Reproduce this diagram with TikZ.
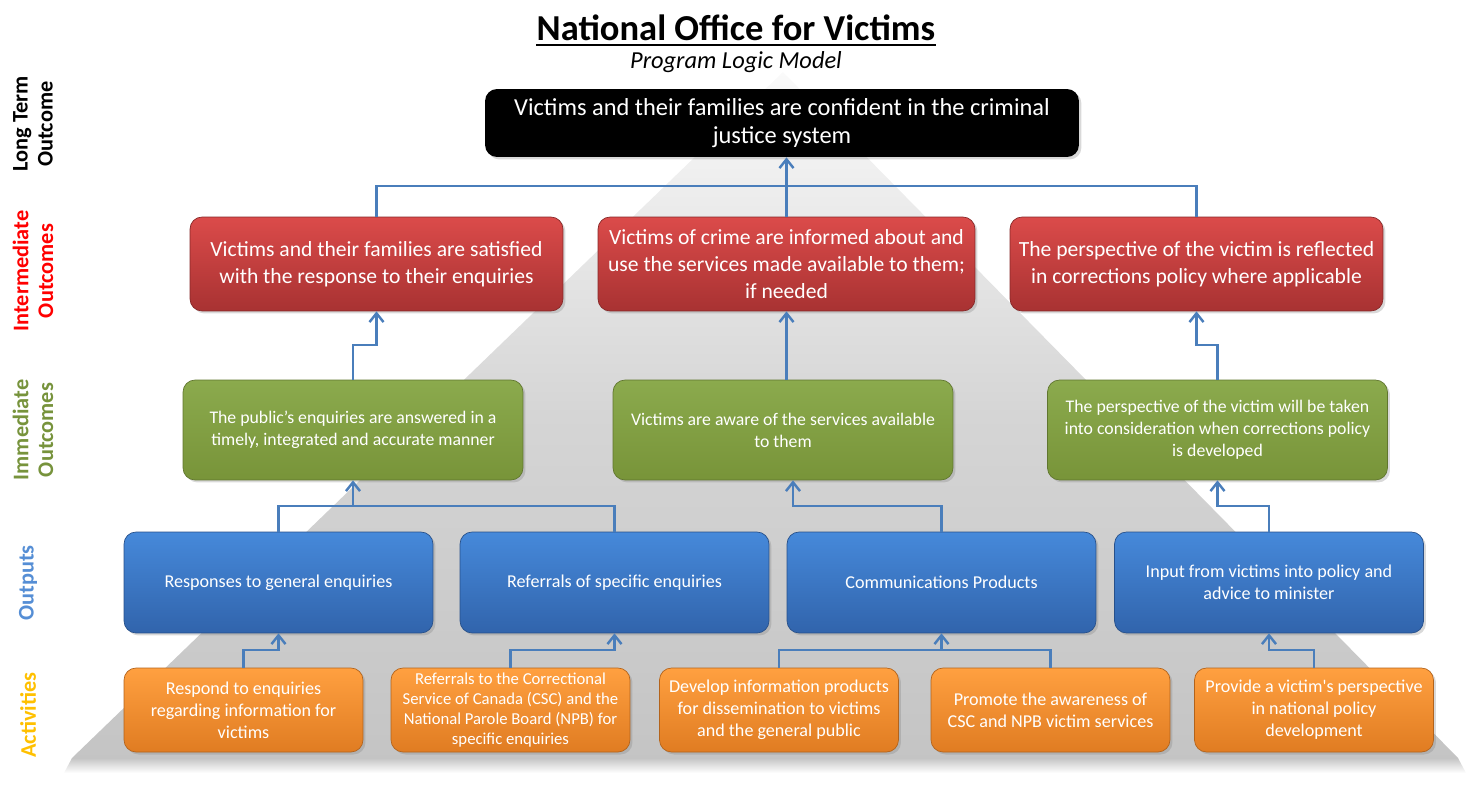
\documentclass[tikz,border=0pt]{standalone}
\usepackage{fontspec}
\setmainfont{Carlito}
\usepackage{tikz}
\usetikzlibrary{arrows.meta}
\usetikzlibrary{shadows}
\tikzset{>={Straight Barb[length=5pt,width=8pt]}}
\definecolor{wireblue}{HTML}{4A7EBB}
\definecolor{redtop}{HTML}{DB4B4A}
\definecolor{redbottom}{HTML}{A83232}
\definecolor{greentop}{HTML}{8BAA4D}
\definecolor{greenbottom}{HTML}{789439}
\definecolor{bluetop}{HTML}{4689DA}
\definecolor{bluebottom}{HTML}{3164AC}
\definecolor{orangetop}{HTML}{FFA040}
\definecolor{orangebottom}{HTML}{E07C22}
\definecolor{olivelabel}{HTML}{77933C}
\definecolor{bluelabel}{HTML}{558ED5}
\definecolor{amberlabel}{HTML}{FFC000}
\tikzset{
  wire/.style={draw=wireblue, line width=1.4pt},
  box/.style={rounded corners=0.24cm, align=center, text=white, inner sep=2pt,
    drop shadow={opacity=0.3, shadow xshift=0.05cm, shadow yshift=-0.05cm}},
  ltbox/.style={box, fill=black, minimum width=11.88cm, minimum height=1.36cm,
    font=\fontsize{13.9}{15.9}\selectfont},
  intbox/.style={box, draw=redbottom!80!black, top color=redtop, bottom color=redbottom,
    minimum width=7.46cm, minimum height=1.88cm, font=\fontsize{12.3}{15.4}\selectfont},
  immbox/.style={box, draw=greenbottom!80!black, top color=greentop, bottom color=greenbottom,
    minimum width=6.8cm, minimum height=2cm, font=\fontsize{10.1}{12.5}\selectfont},
  outpbox/.style={box, draw=bluebottom!80!black, top color=bluetop, bottom color=bluebottom,
    minimum width=6.18cm, minimum height=2.02cm, font=\fontsize{10.3}{12.5}\selectfont},
  actbox/.style={box, draw=orangebottom!80!black, top color=orangetop, bottom color=orangebottom,
    minimum width=4.78cm, minimum height=1.68cm, font=\fontsize{10.3}{12.5}\selectfont},
  sidelabel/.style={rotate=90, align=center, font=\bfseries\fontsize{12.7}{14.2}\selectfont}
}

\begin{document}
\begin{tikzpicture}[x=0.02cm, y=-0.02cm]
  \useasboundingbox (0,0) rectangle (1482,785);
  \shade[top color=gray!4, bottom color=gray!46, middle color=gray!33]
    (783,72) -- (1458,758) -- (72,758) -- cycle;
  \shade[top color=gray!46, bottom color=white]
    (72,758) -- (1458,758) -- (1466,773) -- (64,773) -- cycle;

  \node[font=\bfseries\fontsize{20.8}{25}\selectfont, inner sep=0] (title) at (736,28) {National Office for Victims};
  \draw[line width=1.5pt] ([yshift=-2.5pt]title.base west) -- ([yshift=-2.5pt]title.base east);
  \node[font=\itshape\fontsize{13.9}{16}\selectfont] (subtitle) at (736,62) {Program Logic Model};

  \node[sidelabel, text=black] (ltlabel) at (33,124) {Long Term\\Outcome};
  \node[sidelabel, text=red] (intlabel) at (33,271) {Intermediate\\Outcomes};
  \node[sidelabel, text=olivelabel] (immlabel) at (33,430) {Immediate\\Outcomes};
  \node[sidelabel, text=bluelabel] (outlabel) at (28,583) {Outputs};
  \node[sidelabel, text=amberlabel] (actlabel) at (28,715) {Activities};

  \node[ltbox] (goal) at (782,123) {Victims and their families are confident in the criminal\\justice system};

  \node[intbox] (int1) at (376.5,264) {Victims and their families are satisfied\\with the response to their enquiries};
  \node[intbox, minimum width=7.54cm] (int2) at (786.5,264) {Victims of crime are informed about and\\use the services made available to them;\\if needed};
  \node[intbox] (int3) at (1196.5,264) {The perspective of the victim is reflected\\in corrections policy where applicable};

  \node[immbox] (imm1) at (353,430) {The public's enquiries are answered in a\\timely, integrated and accurate manner};
  \node[immbox] (imm2) at (783,430) {Victims are aware of the services available\\to them};
  \node[immbox] (imm3) at (1217.5,430) {The perspective of the victim will be taken\\into consideration when corrections policy\\is developed};

  \node[outpbox] (out1) at (278.5,582.5) {Responses to general enquiries};
  \node[outpbox] (out2) at (614.5,582.5) {Referrals of specific enquiries};
  \node[outpbox] (out3) at (941.5,582.5) {Communications Products};
  \node[outpbox] (out4) at (1269,582.5) {Input from victims into policy and\\advice to minister};

  \node[actbox] (act1) at (243.5,710) {Respond to enquiries\\regarding information for\\victims};
  \node[actbox, font=\fontsize{9.5}{11.4}\selectfont] (act2) at (510.5,710) {Referrals to the Correctional\\Service of Canada (CSC) and the\\National Parole Board (NPB) for\\specific enquiries};
  \node[actbox] (act3) at (779,710) {Develop information products\\for dissemination to victims\\and the general public};
  \node[actbox] (act4) at (1050.5,710) {Promote the awareness of\\CSC and NPB victim services};
  \node[actbox] (act5) at (1314,710) {Provide a victim\textquotesingle s perspective\\in national policy\\development};

  \draw[wire] (int1.north) -- (int1.north |- 0,186) -| (int3.north);
  \draw[wire, ->] (int2.north) -- (int2.north |- goal.south);

  \draw[wire, ->] (imm1.north) -- (imm1.north |- 0,345) -| (int1.south);
  \draw[wire, ->] (int2.south |- imm2.north) -- (int2.south);
  \draw[wire, ->] (imm3.north) -- (imm3.north |- 0,345) -| (int3.south);

  \coordinate (imm2in) at ([xshift=0.2cm]imm2.south);
  \draw[wire] (out1.north) -- (out1.north |- 0,506) -| (out2.north);
  \draw[wire, ->] (imm1.south |- 0,506) -- (imm1.south);
  \draw[wire, ->] (out3.north) -- (out3.north |- 0,506) -| (imm2in);
  \draw[wire, ->] (out4.north) -- (out4.north |- 0,506) -| (imm3.south);

  \draw[wire, ->] (act1.north) -- (act1.north |- 0,650) -| (out1.south);
  \draw[wire, ->] (act2.north) -- (act2.north |- 0,650) -| (out2.south);
  \draw[wire] (act3.north) -- (act3.north |- 0,650) -| (act4.north);
  \draw[wire, ->] (out3.south |- 0,650) -- (out3.south);
  \draw[wire, ->] (act5.north) -- (act5.north |- 0,650) -| (out4.south);
\end{tikzpicture}
\end{document}
